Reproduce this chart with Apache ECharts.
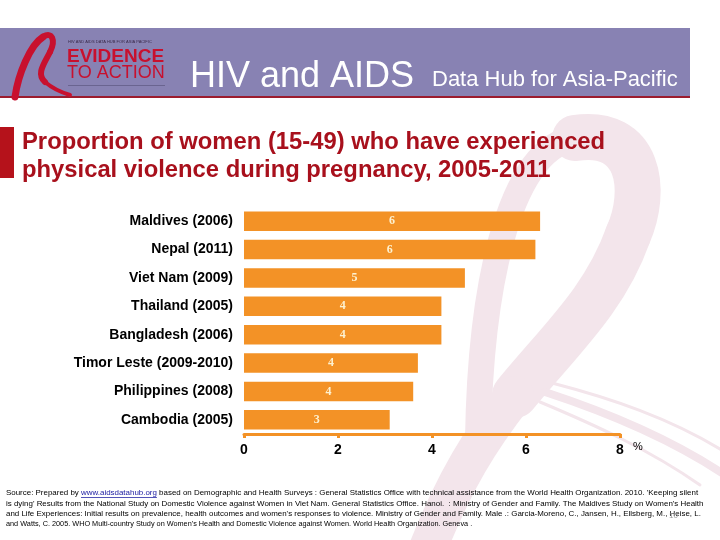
<!DOCTYPE html>
<html>
<head>
<meta charset="utf-8">
<script src="https://cdn.jsdelivr.net/npm/echarts@6/dist/echarts.min.js"></script>
<style>
html,body{margin:0;padding:0;background:#fff;}
#main{width:720px;height:540px;}
</style>
</head>
<body>
<div id="main"></div>
<script>
const categories = ['Maldives (2006)', 'Nepal (2011)', 'Viet Nam (2009)', 'Thailand (2005)', 'Bangladesh (2006)', 'Timor Leste (2009-2010)', 'Philippines (2008)', 'Cambodia (2005)'];
const values = [6.3, 6.2, 4.7, 4.2, 4.2, 3.7, 3.6, 3.1];
const axisMin = 0;
const axisMax = 8;
const axisInterval = 2;

const titleLines = ['Proportion of women (15-49) who have experienced', 'physical violence during pregnancy, 2005-2011'];
const sourcePrefix = 'Source: Prepared by ';
const sourceLink = 'www.aidsdatahub.org';
const sourceRest = " based on Demographic and Health Surveys : General Statistics Office with technical assistance from the World Health Organization. 2010. 'Keeping silent";
const sourceLines = [
  "is dying' Results from the National Study on Domestic Violence against Women in Viet Nam. General Statistics Office. Hanoi.  : Ministry of Gender and Family. The Maldives Study on Women's Health",
  "and Life Experiences: Initial results on prevalence, health outcomes and women's responses to violence. Ministry of Gender and Family. Male .: Garcia-Moreno, C., Jansen, H., Ellsberg, M., Heise, L.",
  "and Watts, C. 2005. WHO Multi-country Study on Women's Health and Domestic Violence against Women. World Health Organization. Geneva ."
];

const FONT = "'Liberation Sans', Arial, sans-serif";
const ORANGE = '#f39226';
const PINK = '#f3e5eb';
const LINK = '#1a1aa0';
const SRC_SIZE = 7.95;

function curve(p, stroke, width, z) {
  return {type: 'bezierCurve', z: z, shape: {x1: p[0], y1: p[1], cpx1: p[2], cpy1: p[3], cpx2: p[4], cpy2: p[5], x2: p[6], y2: p[7]},
    style: {fill: null, stroke: stroke, lineWidth: width, lineCap: 'round'}};
}

// measure link position for underline / separate link text
const ctx = document.createElement('canvas').getContext('2d');
ctx.font = SRC_SIZE + 'px ' + FONT;
const linkX = 6 + ctx.measureText(sourcePrefix).width;
const linkW = ctx.measureText(sourceLink).width;
const restX = linkX + linkW;

const graphics = [
  // watermark ribbon
  curve([478, 440, 480, 300, 505, 150, 575, 138], PINK, 26, -10),
  curve([575, 138, 640, 128, 648, 190, 628, 235], PINK, 46, -10),
  curve([628, 235, 605, 300, 560, 340, 515, 395], PINK, 46, -10),
  curve([515, 395, 480, 440, 455, 480, 428, 548], PINK, 38, -10),
  curve([545, 392, 600, 410, 665, 435, 725, 475], PINK, 8, -10),
  curve([552, 383, 610, 398, 670, 418, 725, 452], PINK, 3, -10),
  curve([540, 402, 595, 425, 650, 450, 700, 485], PINK, 3, -10),
  // header band
  {type: 'rect', shape: {x: 0, y: 28, width: 690, height: 69}, style: {fill: '#8882b3'}},
  {type: 'rect', shape: {x: 0, y: 96, width: 690, height: 2}, style: {fill: '#9c1c2e'}},
  // logo ribbon
  curve([15, 97, 18, 75, 30, 45, 43, 37], '#c8102e', 7, 1),
  curve([43, 37, 52, 31, 56, 40, 50, 52], '#c8102e', 6, 1),
  curve([50, 52, 44, 64, 36, 74, 45, 82], '#c8102e', 6, 1),
  curve([45, 82, 52, 88, 60, 92, 70, 95], '#c8102e', 4, 1),
  {type: 'text', x: 68, y: 42, style: {text: 'HIV AND AIDS DATA HUB FOR ASIA PACIFIC', font: "4px " + FONT, fill: '#3a2a4a', verticalAlign: 'middle'}},
  {type: 'text', x: 67, y: 57, style: {text: 'EVIDENCE', font: "bold 19px 'Liberation Sans Narrow', " + FONT, fill: '#c8102e', verticalAlign: 'middle'}},
  {type: 'text', x: 67, y: 73, style: {text: 'TO ACTION', font: "18px 'Liberation Sans Narrow', " + FONT, fill: '#c8102e', verticalAlign: 'middle'}},
  {type: 'rect', shape: {x: 68, y: 85, width: 97, height: 1}, style: {fill: '#6a6490'}},
  // header text
  {type: 'text', x: 190, y: 77, style: {text: 'HIV and AIDS', font: "36px " + FONT, fill: '#ffffff', verticalAlign: 'middle'}},
  {type: 'text', x: 432, y: 80, style: {text: 'Data Hub for Asia-Pacific', font: "22px " + FONT, fill: '#ffffff', verticalAlign: 'middle'}},
  // title
  {type: 'rect', shape: {x: 0, y: 127, width: 14, height: 51}, style: {fill: '#b5121b'}},
  {type: 'text', x: 22, y: 142, style: {text: titleLines[0], font: "bold 23.8px " + FONT, fill: '#a8101c', verticalAlign: 'middle'}},
  {type: 'text', x: 22, y: 170, style: {text: titleLines[1], font: "bold 23.8px " + FONT, fill: '#a8101c', verticalAlign: 'middle'}},
  // percent unit
  {type: 'text', x: 633, y: 447, style: {text: '%', font: "11px " + FONT, fill: '#000', verticalAlign: 'middle'}},
  // source
  {type: 'text', x: 6, y: 493, style: {text: sourcePrefix, font: SRC_SIZE + "px " + FONT, fill: '#000', verticalAlign: 'middle'}},
  {type: 'text', x: linkX, y: 493, style: {text: sourceLink, font: SRC_SIZE + "px " + FONT, fill: LINK, verticalAlign: 'middle'}},
  {type: 'text', x: restX, y: 493, style: {text: sourceRest, font: SRC_SIZE + "px " + FONT, fill: '#000', verticalAlign: 'middle'}},
  {type: 'rect', shape: {x: linkX, y: 497, width: linkW, height: 0.8}, style: {fill: LINK}},
  {type: 'text', x: 6, y: 503.5, style: {text: sourceLines[0], font: SRC_SIZE + "px " + FONT, fill: '#000', verticalAlign: 'middle'}},
  {type: 'text', x: 6, y: 514, style: {text: sourceLines[1], font: SRC_SIZE + "px " + FONT, fill: '#000', verticalAlign: 'middle'}},
  {type: 'text', x: 6, y: 524, style: {text: sourceLines[2], font: "7.3px " + FONT, fill: '#000', verticalAlign: 'middle'}},
  {type: 'text', x: 669, y: 516, style: {text: '10', font: "8px " + FONT, fill: '#999', verticalAlign: 'middle'}}
];

const chart = echarts.init(document.getElementById('main'), null, {renderer: 'canvas'});
const option = {
  backgroundColor: '#ffffff',
  animation: false,
  graphic: {elements: graphics},
  grid: {left: 244, right: 100, top: 207, bottom: 106, containLabel: false},
  xAxis: {
    type: 'value', min: axisMin, max: axisMax, interval: axisInterval,
    axisLine: {show: true, lineStyle: {color: ORANGE, width: 3}},
    axisTick: {show: true, length: 4, lineStyle: {color: ORANGE, width: 3}},
    splitLine: {show: false},
    axisLabel: {color: '#000', fontWeight: 'bold', fontSize: 14, fontFamily: FONT, margin: 9}
  },
  yAxis: {
    type: 'category', data: categories, inverse: true,
    axisLine: {show: false}, axisTick: {show: false},
    axisLabel: {color: '#000', fontWeight: 'bold', fontSize: 14, fontFamily: FONT, margin: 11}
  },
  series: [{
    type: 'bar', data: values, barCategoryGap: '31%',
    itemStyle: {color: ORANGE},
    label: {show: true, position: 'inside', color: '#fdf1d0', fontWeight: 'bold', fontSize: 12,
      fontFamily: "'Liberation Serif', 'Times New Roman', serif",
      formatter: p => Math.round(p.value)}
  }]
};
chart.setOption(option);
</script>
</body>
</html>
